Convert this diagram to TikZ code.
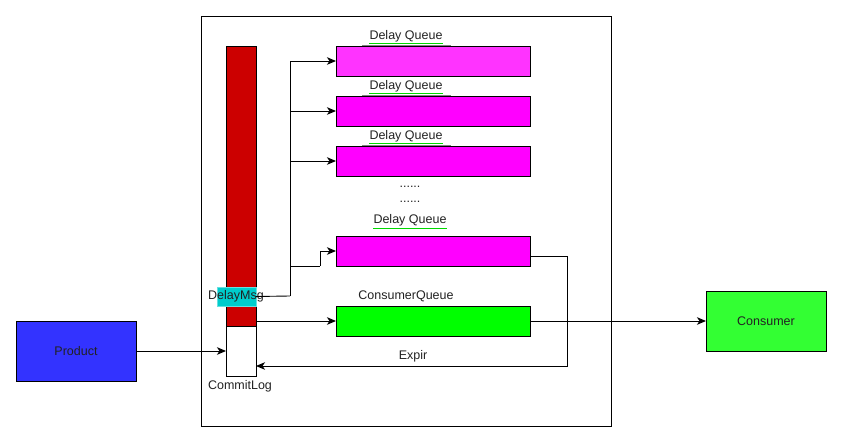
\documentclass[tikz,border=0pt]{standalone}
\usepackage{fontspec}
\setmainfont{Liberation Sans}
\usetikzlibrary{arrows.meta}
\definecolor{mag}{HTML}{FF00FF}
\definecolor{magl}{HTML}{FF33FF}
\definecolor{redbar}{HTML}{CC0000}
\definecolor{cyanbox}{HTML}{00CCCC}
\definecolor{cyanedge}{HTML}{66E0E0}
\definecolor{gq}{HTML}{00FF00}
\definecolor{gc}{HTML}{33FF33}
\definecolor{prodblue}{HTML}{3333FF}
\definecolor{txt}{HTML}{222222}
\begin{document}
\begin{tikzpicture}[x=1pt,y=-1pt,
  box/.style={draw=black,line width=0.9pt,minimum width=#1,inner sep=0pt,outer sep=0pt},
  queue/.style={box=194pt,minimum height=30pt},
  lbl/.style={font=\fontsize{12.5}{13}\selectfont,text=txt,inner sep=0pt},
  conn/.style={draw=black,line width=0.9pt},
  arr/.style={conn,-{Stealth[length=9pt,width=7.5pt,inset=2.5pt]}}]
\useasboundingbox (0,0) rectangle (843,443);
% outer frame
\node[box=410pt,minimum height=410pt] (frame) at (406,221) {};
% commit log column
\node[box=30pt,minimum height=280pt,fill=redbar] (red) at (241,186) {};
\node[box=30pt,minimum height=50pt,fill=white] (cl) at (241,351) {};
\node[lbl] (cllbl) at (240,386.5) {CommitLog};
\node[draw=cyanedge,fill=cyanbox,minimum width=39pt,minimum height=19pt,inner sep=0pt,outer sep=0pt,line width=0.8pt] (dm) at (236.5,296.5) {};
\node[lbl] (dmlbl) at (236,296.5) {DelayMsg};
% queues
\node[queue,fill=magl] (q1) at (433,61) {};
\node[queue,fill=mag] (q2) at (433,111) {};
\node[queue,fill=mag] (q3) at (433,161) {};
\node[queue,fill=mag] (q4) at (433,251) {};
\node[queue,fill=gq] (cq) at (433,321) {};
% labels
\foreach \n/\y in {l1/36,l2/86,l3/136}{
  \node[lbl] (\n) at (406,\y) {Delay Queue};
  \draw[green!85!black,line width=0.8pt] ([yshift=-1.5pt]\n.south west) -- ([yshift=-1.5pt]\n.south east);
}
\foreach \q in {q1,q2,q3}{
  \draw[gray,line width=1pt] ([xshift=26pt]\q.north west) -- ([xshift=115pt]\q.north west);
}
\node[lbl] (l4) at (410,220.5) {Delay Queue};
\draw[green!85!black,line width=0.8pt] ([yshift=-1.5pt]l4.south west) -- ([yshift=-1.5pt]l4.south east);
\node[lbl] (d1) at (410,186.5) {......};
\node[lbl] (d2) at (410,201.5) {......};
\node[lbl] (cqlbl) at (406,296.5) {ConsumerQueue};
% external boxes
\node[box=120pt,minimum height=60pt,fill=prodblue] (prod) at (76,351) {\fontsize{12.5}{13}\selectfont\color{txt}Product};
\node[box=120pt,minimum height=60pt,fill=gc] (cons) at (766,321) {\fontsize{12.5}{13}\selectfont\color{txt}Consumer};
% connectors
\coordinate (bus) at (290,296);
\coordinate (b4) at (320,266);
\draw[conn] (dm.east) -- (bus);
\draw[arr] (bus) |- (q1.west);
\draw[arr] (bus) |- (q2.west);
\draw[arr] (bus) |- (q3.west);
\draw[conn] (bus) |- (b4);
\draw[arr] (b4) |- (q4.west);
\draw[arr] (cq.west -| red.east) -- (cq.west);
\draw[arr] (cq.east) -- (cons.west);
\draw[arr] (prod.east) -- (cl.west);
\coordinate (ex1) at (567,256);
\coordinate (ex2) at (567,366);
\draw[arr] ([yshift=-5pt]q4.east) -- (ex1) -- (ex2) -- ([yshift=-15pt]cl.east);
\node[lbl] (expir) at (413,356.5) {Expir};
\end{tikzpicture}
\end{document}
